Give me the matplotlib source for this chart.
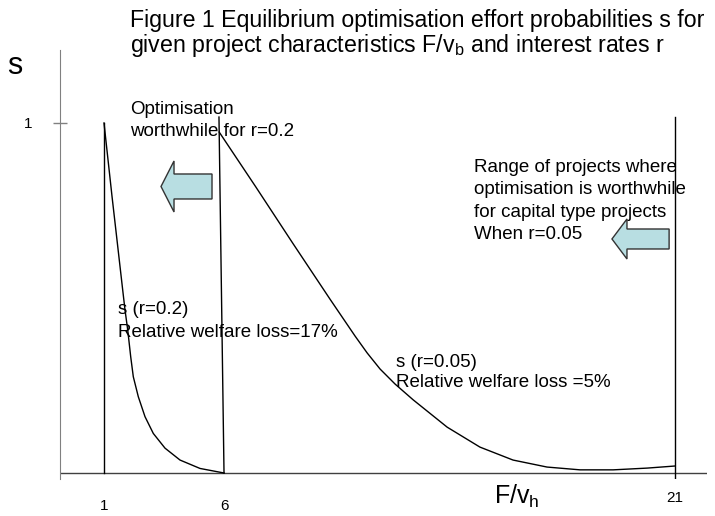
import numpy as np
import matplotlib
matplotlib.use("Agg")
import matplotlib.pyplot as plt
from matplotlib.patches import FancyArrow

plt.rcParams['font.family'] = ['Liberation Sans', 'DejaVu Sans']
plt.rcParams['mathtext.fontset'] = 'custom'
plt.rcParams['mathtext.rm'] = 'Liberation Sans'
plt.rcParams['mathtext.it'] = 'Liberation Sans:italic'

W, H = 715, 516

# s for r=0.2
fv_r02 = [1.0, 1.333, 1.779, 1.875, 1.988, 2.113, 2.221, 2.429, 2.708,
          3.054, 3.542, 4.167, 5.0, 6.0]
s_r02 = [1.0, 0.791, 0.523, 0.466, 0.409, 0.332, 0.275, 0.218, 0.161,
         0.113, 0.071, 0.037, 0.013, 0.0]

# s for r=0.05
fv_r005 = [5.80, 7.06, 8.29, 9.53, 10.36, 10.76, 11.19, 11.69, 12.29,
           13.42, 14.51, 15.61, 16.74, 17.84, 18.94, 20.07, 21.0]
s_r005 = [0.974, 0.817, 0.656, 0.496, 0.391, 0.343, 0.297, 0.254, 0.209,
          0.131, 0.074, 0.037, 0.017, 0.009, 0.009, 0.014, 0.020]

# boundary lines (x pairs, y pairs)
bound_x = [[1.0, 1.0], [5.79, 6.0], [21.0, 21.0]]
bound_y = [[1.0, 0.0], [1.017, 0.0], [1.017, -0.017]]

x_ticks = [1, 6, 21]
x_tick_labels = ['1', '6', '21']

# the hand drawn axis is stretched after 6
STRETCH = 30.07 / 24


def fwd(x):
    x = np.asarray(x, dtype=float)
    return np.where(x <= 6, x, 6 + (x - 6) * STRETCH)


def inv(u):
    u = np.asarray(u, dtype=float)
    return np.where(u <= 6, u, 6 + (u - 6) / STRETCH)


def at(x, y):
    # pixel position in the picture -> figure fraction
    return x / W, 1 - y / H


fig = plt.figure(figsize=(W / 100, H / 100), dpi=100)
ax = fig.add_axes([60 / W, (H - 479) / H, (707 - 60) / W, (479 - 50) / H])
ax.set_xscale('function', functions=(fwd, inv))
ax.set_xlim(-0.833, 22.06)
ax.set_ylim(-6 / 350, 423 / 350)

for side in ['top', 'right', 'bottom']:
    ax.spines[side].set_visible(False)
ax.spines['left'].set_color('#808080')
ax.axhline(0, color='#404040', lw=1)

ax.plot(fv_r02, s_r02, color='black', lw=1)
ax.plot(fv_r005, s_r005, color='black', lw=1)
for bx, by in zip(bound_x, bound_y):
    ax.plot(bx, by, color='black', lw=1)

ax.set_xticks([])
ax.set_yticks([1])
ax.set_yticklabels(['1'])
ax.tick_params(axis='y', direction='inout', length=10, width=1,
               color='#808080', labelsize=11, pad=15)

for x, lbl in zip(x_ticks, x_tick_labels):
    off = 25 if lbl == '21' else 33
    ax.annotate(lbl, (x, 0), xytext=(0, -off), textcoords='offset pixels',
                ha='center', va='center', fontsize=11)

# block arrows
ax.add_patch(FancyArrow(5.5, 0.8186, -2.125, 0, width=0.0714,
                        head_width=0.1457, head_length=0.542,
                        length_includes_head=True, fc='#b8dee2',
                        ec='#333333', lw=1))
ax.add_patch(FancyArrow(20.80, 0.6686, -1.90, 0, width=0.0571,
                        head_width=0.1143, head_length=0.499,
                        length_includes_head=True, fc='#b8dee2',
                        ec='#333333', lw=1))

fig.text(*at(130, 27), 'Figure 1 Equilibrium optimisation effort probabilities s for',
         fontsize=16.7, va='baseline')
fig.text(*at(130, 52), r'given project characteristics F/v$_\mathregular{b}$ and interest rates r',
         fontsize=16.7, va='baseline')
fig.text(*at(15, 66), 's', fontsize=22, ha='center', va='center')
fig.text(*at(517, 504), r'F/v$_\mathregular{h}$', fontsize=18, ha='center', va='baseline')

fig.text(*at(130, 114), 'Optimisation', fontsize=13.5, va='baseline')
fig.text(*at(130, 136), 'worthwhile for r=0.2', fontsize=13.5, va='baseline')

range_lines = ['Range of projects where', 'optimisation is worthwhile',
               'for capital type projects', 'When r=0.05']
for i, line in enumerate(range_lines):
    fig.text(*at(474, 172 + 22.5 * i), line, fontsize=13.5, va='baseline')

fig.text(*at(118, 314), 's (r=0.2)', fontsize=13.5, va='baseline')
fig.text(*at(118, 337), 'Relative welfare loss=17%', fontsize=13.5, va='baseline')
fig.text(*at(396, 367), 's (r=0.05)', fontsize=13.5, va='baseline')
fig.text(*at(396, 387), 'Relative welfare loss =5%', fontsize=13.5, va='baseline')

fig.savefig('out.png', dpi=100)
